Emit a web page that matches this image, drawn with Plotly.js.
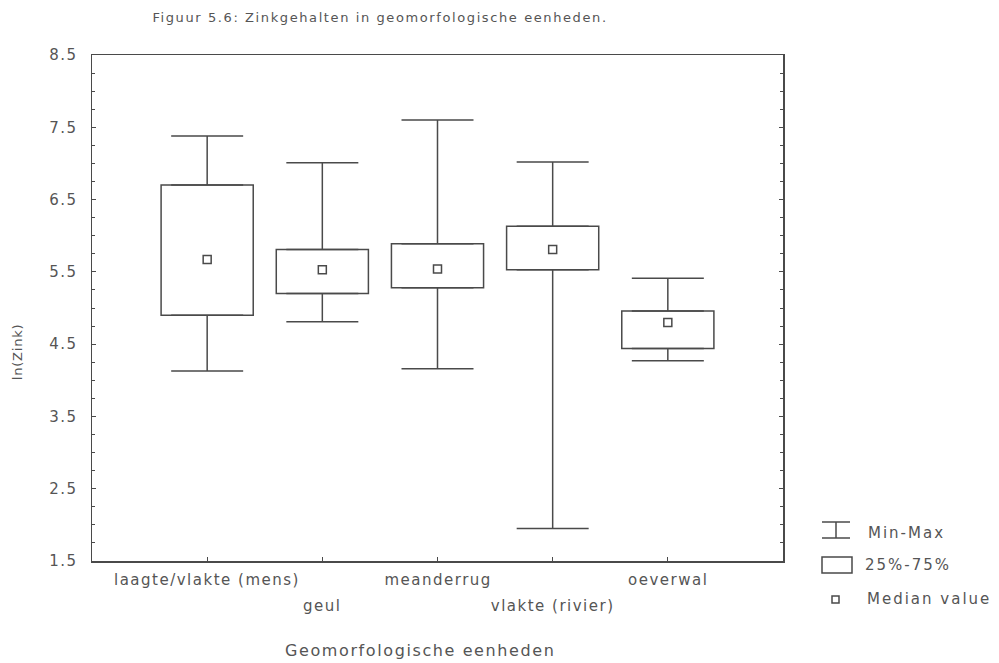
<!DOCTYPE html>
<html>
<head>
<meta charset="utf-8">
<script src="https://cdn.plot.ly/plotly-3.0.1.min.js"></script>
<style>
html, body { margin: 0; padding: 0; background: #fff; }
#chart { width: 999px; height: 663px; }
#chart .gtitle { letter-spacing: 1.6px; }
#chart .ytick text { letter-spacing: 1.5px; }
#chart .annotation-text { letter-spacing: 1.5px; }
#chart .annotation[data-index="5"] text,
#chart .annotation[data-index="6"] text,
#chart .annotation[data-index="7"] text { letter-spacing: 2px; }
#chart .annotation[data-index="8"] text { letter-spacing: 0.8px; }
#chart .annotation[data-index="9"] text { letter-spacing: 1.6px; }
</style>
</head>
<body>
<div id="chart"></div>
<script>
// ---- data ----
var categories = ["laagte/vlakte (mens)", "geul", "meanderrug", "vlakte (rivier)", "oeverwal"];
var minValues    = [4.13, 4.81, 4.16, 1.95, 4.27];
var q1Values     = [4.90, 5.20, 5.28, 5.53, 4.44];
var medianValues = [5.67, 5.53, 5.54, 5.81, 4.80];
var q3Values     = [6.70, 5.81, 5.89, 6.13, 4.96];
var maxValues    = [7.38, 7.01, 7.60, 7.02, 5.41];
var labelRow     = [0, 1, 0, 1, 0];   // staggered category labels: 0 = upper row, 1 = lower row
var yTickValues  = [1.5, 2.5, 3.5, 4.5, 5.5, 6.5, 7.5, 8.5];
var legendLabels = ["Min-Max", "25%-75%", "Median value"];
var titleText  = "Figuur 5.6: Zinkgehalten in geomorfologische eenheden.";
var xTitleText = "Geomorfologische eenheden";
var yTitleText = "ln(Zink)";

var lineColor = "#4a4a4a";
var textColor = "#555555";
var fontFamily = "DejaVu Sans, Arial, sans-serif";

// box 25%-75%
var boxTrace = {
  type: "bar",
  x: categories,
  base: q1Values,
  y: q3Values.map(function (v, i) { return v - q1Values[i]; }),
  width: 0.8,
  marker: { color: "#ffffff", line: { color: lineColor, width: 1.5 } },
  name: legendLabels[1],
  showlegend: false,
  hoverinfo: "skip"
};
// upper whisker (q3 -> max)
var upperWhisker = {
  type: "scatter", mode: "none",
  x: categories, y: q3Values,
  error_y: {
    type: "data", symmetric: false,
    array: maxValues.map(function (v, i) { return v - q3Values[i]; }),
    arrayminus: q3Values.map(function () { return 0; }),
    color: lineColor, thickness: 1.5, width: 36
  },
  name: legendLabels[0], showlegend: false, hoverinfo: "skip"
};
// lower whisker (min -> q1)
var lowerWhisker = {
  type: "scatter", mode: "none",
  x: categories, y: q1Values,
  error_y: {
    type: "data", symmetric: false,
    array: q1Values.map(function () { return 0; }),
    arrayminus: q1Values.map(function (v, i) { return v - minValues[i]; }),
    color: lineColor, thickness: 1.5, width: 36
  },
  name: legendLabels[0], showlegend: false, hoverinfo: "skip"
};
// median squares
var medianTrace = {
  type: "scatter", mode: "markers",
  x: categories, y: medianValues,
  marker: { symbol: "square", size: 8, color: "#ffffff", line: { color: lineColor, width: 1.5 } },
  name: legendLabels[2], showlegend: false, hoverinfo: "skip"
};

// staggered category labels (indices 0-4)
var annotations = categories.map(function (c, i) {
  return {
    x: c, xref: "x", y: 0, yref: "paper",
    yanchor: "middle", yshift: labelRow[i] === 0 ? -19 : -45,
    text: c, showarrow: false,
    font: { family: fontFamily, size: 15, color: textColor }
  };
});

// custom legend (paper coordinates to the right of the plot), indices 5-7
var px = function (p) { return (p - 92) / 691; };
var py = function (p) { return 1 - (p - 55) / 506; };
var shapes = [
  // Min-Max I-beam
  { type: "line", xref: "paper", yref: "paper", x0: px(822), x1: px(850), y0: py(522), y1: py(522), line: { color: lineColor, width: 1.5 } },
  { type: "line", xref: "paper", yref: "paper", x0: px(822), x1: px(850), y0: py(538), y1: py(538), line: { color: lineColor, width: 1.5 } },
  { type: "line", xref: "paper", yref: "paper", x0: px(836), x1: px(836), y0: py(522), y1: py(538), line: { color: lineColor, width: 1.5 } },
  // 25%-75% box
  { type: "rect", xref: "paper", yref: "paper", x0: px(822), x1: px(852), y0: py(557), y1: py(573), line: { color: lineColor, width: 1.5 }, fillcolor: "#ffffff" },
  // Median square
  { type: "rect", xref: "paper", yref: "paper", x0: px(832), x1: px(839), y0: py(596), y1: py(603), line: { color: lineColor, width: 1.5 }, fillcolor: "#ffffff" }
];
var legendY = [533, 565, 599];
var legendTextX = [873, 870, 877];
legendLabels.forEach(function (t, i) {
  annotations.push({
    x: px(legendTextX[i]), xref: "paper", y: py(legendY[i]), yref: "paper",
    xanchor: "left", yanchor: "middle", text: t, showarrow: false,
    font: { family: fontFamily, size: 15, color: textColor }
  });
});
// axis titles (index 8: y title, index 9: x title)
annotations.push({
  x: px(17), xref: "paper", y: py(352), yref: "paper",
  xanchor: "center", yanchor: "middle", textangle: -90,
  text: yTitleText, showarrow: false,
  font: { family: fontFamily, size: 13, color: textColor }
});
annotations.push({
  x: px(420), xref: "paper", y: py(650), yref: "paper",
  xanchor: "center", yanchor: "middle",
  text: xTitleText, showarrow: false,
  font: { family: fontFamily, size: 16, color: textColor }
});

var layout = {
  width: 999, height: 663,
  margin: { l: 92, r: 216, t: 55, b: 102 },
  paper_bgcolor: "#ffffff", plot_bgcolor: "#ffffff",
  showlegend: false,
  barmode: "overlay",
  title: {
    text: titleText,
    x: 380 / 999, xref: "container", xanchor: "center",
    y: 1 - 17 / 663, yref: "container", yanchor: "middle",
    font: { family: fontFamily, size: 13, color: textColor }
  },
  xaxis: {
    type: "category", range: [-1, 5],
    showgrid: false, zeroline: false,
    showline: true, linecolor: lineColor, linewidth: 1.5, mirror: true,
    ticks: "inside", ticklen: 4, tickcolor: lineColor,
    showticklabels: false
  },
  yaxis: {
    range: [1.5, 8.5],
    showgrid: false, zeroline: false,
    showline: true, linecolor: lineColor, linewidth: 1.5, mirror: "ticks",
    ticks: "inside", ticklen: 4, tickcolor: lineColor,
    tickvals: yTickValues,
    ticktext: yTickValues.map(function (v) { return v.toFixed(1); }),
    minor: { ticks: "inside", dtick: 0.25, tick0: 1.5, ticklen: 3, tickcolor: lineColor, showgrid: false },
    tickfont: { family: fontFamily, size: 15, color: textColor },
    ticklabelstandoff: 10
  },
  shapes: shapes,
  annotations: annotations
};

Plotly.newPlot("chart", [boxTrace, upperWhisker, lowerWhisker, medianTrace], layout, { displayModeBar: false, staticPlot: true });
</script>
</body>
</html>
